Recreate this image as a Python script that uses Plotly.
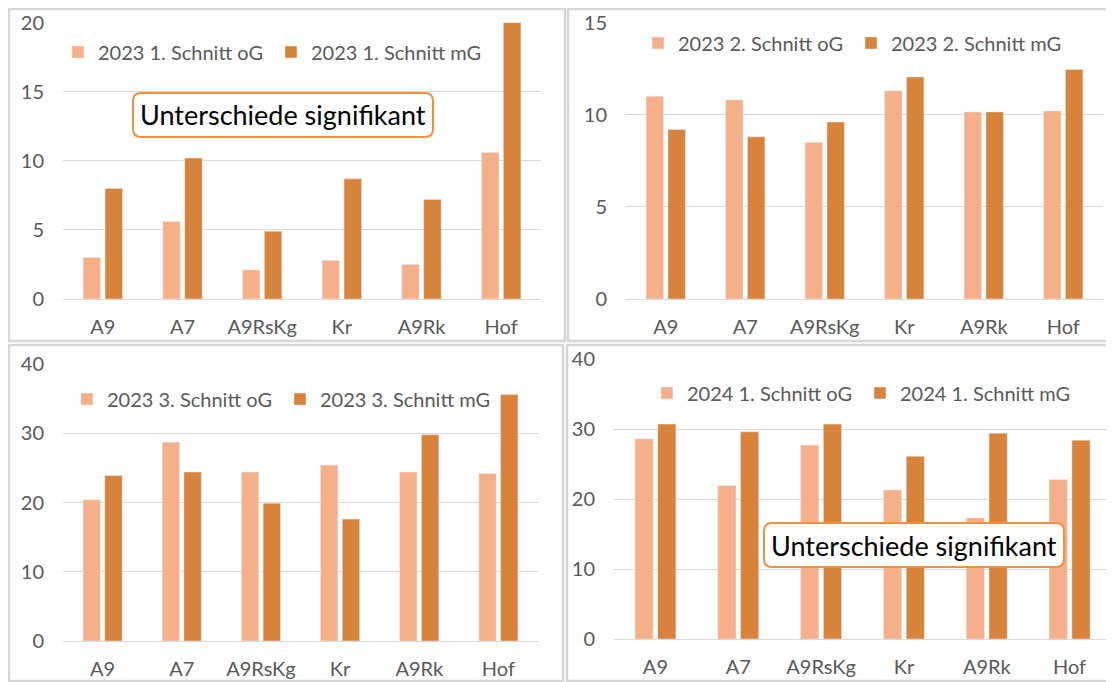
import plotly.graph_objects as go

# page size; the html body keeps an 8px margin, so the figure is drawn 8px smaller
W, H = 1114, 682
OFF = 8
FW, FH = W - OFF, H - OFF

categories = ["A9", "A7", "A9RsKg", "Kr", "A9Rk", "Hof"]

s1_og = [3.0, 5.6, 2.1, 2.8, 2.5, 10.6]
s1_mg = [8.0, 10.2, 4.9, 8.7, 7.2, 20.0]
s2_og = [11.0, 10.8, 8.5, 11.3, 10.15, 10.2]
s2_mg = [9.2, 8.8, 9.6, 12.05, 10.15, 12.45]
s3_og = [20.4, 28.7, 24.4, 25.4, 24.4, 24.2]
s3_mg = [23.9, 24.4, 19.9, 17.6, 29.8, 35.6]
s4_og = [28.6, 21.9, 27.7, 21.3, 17.3, 22.8]
s4_mg = [30.7, 29.6, 30.7, 26.1, 29.4, 28.4]

names_og = ["2023 1. Schnitt oG", "2023 2. Schnitt oG", "2023 3. Schnitt oG", "2024 1. Schnitt oG"]
names_mg = ["2023 1. Schnitt mG", "2023 2. Schnitt mG", "2023 3. Schnitt mG", "2024 1. Schnitt mG"]

C_OG = "#F5B08A"
C_MG = "#D8833B"
GRID = "#D9D9D9"
TXT = "#595959"
FONT = "Lato"


def xp(px):
    return (px - OFF) / FW


def yp(py):
    return 1 - (py - OFF) / FH


# panel layout in page pixels: (x0, x1, y_top, y_zero, ymax, dtick, legend x, legend y)
panels = [
    (63, 541, 22.5, 299, 20, 5, 58, 52),
    (626, 1103, 22.5, 299, 15, 5, 638, 43),
    (63, 538, 364, 641, 40, 10, 67, 399),
    (614, 1111, 359, 639, 40, 10, 647, 393),
]
data_og = [s1_og, s2_og, s3_og, s4_og]
data_mg = [s1_mg, s2_mg, s3_mg, s4_mg]

fig = go.Figure()
layout = {}
for i, (x0, x1, yt, y0, ymax, dt, lx, ly) in enumerate(panels):
    n = "" if i == 0 else str(i + 1)
    leg = "legend" + n
    fig.add_trace(go.Bar(x=categories, y=data_og[i], name=names_og[i], marker_color=C_OG,
                         xaxis="x" + n, yaxis="y" + n, legend=leg))
    fig.add_trace(go.Bar(x=categories, y=data_mg[i], name=names_mg[i], marker_color=C_MG,
                         xaxis="x" + n, yaxis="y" + n, legend=leg))
    layout["xaxis" + n] = dict(domain=[xp(x0), xp(x1)], anchor="y" + n, showgrid=False,
                               showline=False, ticks="", ticklabelstandoff=14, automargin=False,
                               tickfont=dict(size=20, color=TXT, family=FONT))
    layout["yaxis" + n] = dict(domain=[yp(y0), yp(yt)], anchor="x" + n, range=[0, ymax],
                               dtick=dt, showgrid=True, gridcolor=GRID, gridwidth=1.3,
                               zeroline=True, zerolinecolor=GRID, zerolinewidth=1.3,
                               showline=False, ticks="", ticklabelstandoff=18, automargin=False,
                               tickfont=dict(size=20, color=TXT, family=FONT))
    layout[leg] = dict(orientation="h", x=xp(lx), y=yp(ly), xanchor="left", yanchor="middle",
                       bgcolor="rgba(0,0,0,0)", entrywidth=168,
                       font=dict(size=20, color=TXT, family=FONT))

fig.update_layout(**layout)

# panel frames
frames = [(9, 565, 9, 341), (568, 1111, 9, 341), (9, 563, 345, 681), (567, 1113, 345, 681)]
for (a, b, c, d) in frames:
    fig.add_shape(type="rect", xref="paper", yref="paper", x0=xp(a), x1=xp(b), y0=yp(d), y1=yp(c),
                  line=dict(color="#D6D6D6", width=2.5), layer="below")


def rounded_box(a, b, c, d, r=8):
    rx, ry = r / FW, r / FH
    x0, x1, ytop, ybot = xp(a), xp(b), yp(c), yp(d)
    return (f"M{x0+rx},{ytop} L{x1-rx},{ytop} Q{x1},{ytop} {x1},{ytop-ry} "
            f"L{x1},{ybot+ry} Q{x1},{ybot} {x1-rx},{ybot} L{x0+rx},{ybot} "
            f"Q{x0},{ybot} {x0},{ybot+ry} L{x0},{ytop-ry} Q{x0},{ytop} {x0+rx},{ytop} Z")


for (a, b, c, d) in [(133, 433, 93, 137), (764, 1064, 523, 567)]:
    fig.add_shape(type="path", xref="paper", yref="paper", path=rounded_box(a, b, c, d),
                  fillcolor="white", line=dict(color="#F0913E", width=2))
    fig.add_annotation(xref="paper", yref="paper", x=xp((a + b) / 2), y=yp((c + d) / 2),
                       xanchor="center", yanchor="middle",
                       text="Unterschiede signifikant", showarrow=False,
                       font=dict(size=27, color="black", family=FONT))

fig.update_layout(width=FW, height=FH, autosize=False,
                  margin=dict(l=0, r=0, t=0, b=0, autoexpand=False),
                  paper_bgcolor="white", plot_bgcolor="white",
                  barmode="group", bargap=0.45, bargroupgap=0.2, showlegend=True)

fig.write_html("out.html")
